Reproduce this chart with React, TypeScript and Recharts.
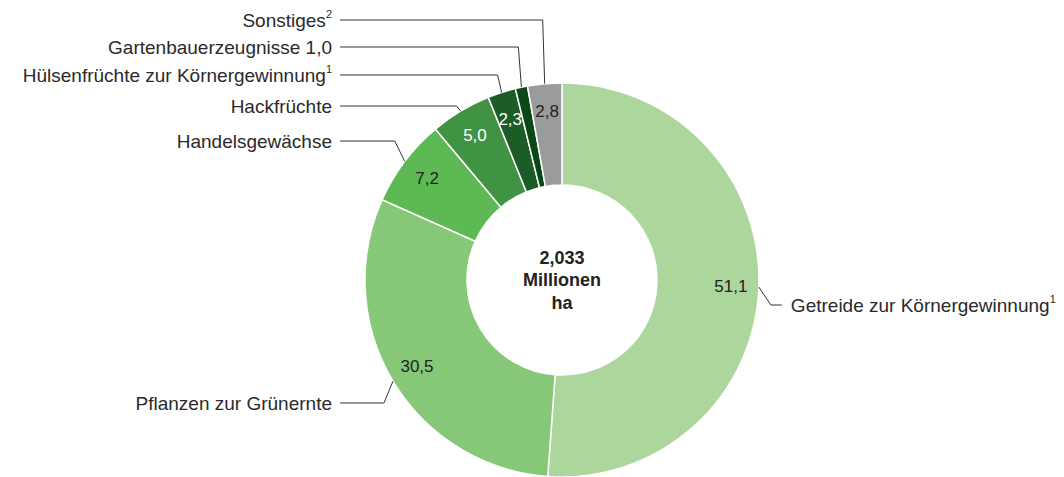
import { PieChart, Pie, Cell } from "recharts";

const CATEGORIES = [
  "Getreide zur Körnergewinnung",
  "Pflanzen zur Grünernte",
  "Handelsgewächse",
  "Hackfrüchte",
  "Hülsenfrüchte zur Körnergewinnung",
  "Gartenbauerzeugnisse 1,0",
  "Sonstiges",
];
const FOOTNOTES = ["1", "", "", "", "1", "", "2"];
const VALUES = [51.1, 30.5, 7.2, 5.0, 2.3, 1.0, 2.8];
const VALUE_LABELS = ["51,1", "30,5", "7,2", "5,0", "2,3", "", "2,8"];

const COLORS = ["#acd69c", "#86c877", "#5cb953", "#3f9343", "#1c5d27", "#0b4818", "#9a9b9d"];
const VALUE_TEXT = ["#222", "#222", "#222", "#fff", "#fff", "#fff", "#222"];

// label placement: y of the text row and the small sideways step of the leader line
const LABEL_ROW_Y = [305, 403, 141, 106, 75, 47, 20];
const LABEL_STEP_X = [12, -9, -10, -4, -4, -3, -2];

const data = CATEGORIES.map((name, i) => ({ name, value: VALUES[i] }));

const FONT = "'Liberation Sans', Arial, sans-serif";
const RADIAN = Math.PI / 180;

function renderLabel(props: any) {
  const { cx, cy, midAngle, outerRadius, index } = props;
  const cos = Math.cos(-midAngle * RADIAN);
  const sin = Math.sin(-midAngle * RADIAN);
  const ax = cx + outerRadius * cos;
  const ay = cy + outerRadius * sin;
  const bx = ax + LABEL_STEP_X[index];
  const by = LABEL_ROW_Y[index];
  const right = cos > 0;
  const ex = right ? bx + 11 : 340;
  const tx = right ? ex + 9 : 332;
  const vr = 169;
  const vx = cx + vr * cos;
  const vy = cy + vr * sin;
  return (
    <g key={`lbl-${index}`}>
      {VALUE_LABELS[index] && (
        <text
          x={vx}
          y={vy}
          textAnchor="middle"
          dominantBaseline="central"
          fill={VALUE_TEXT[index]}
          fontSize={17}
          fontFamily={FONT}
        >
          {VALUE_LABELS[index]}
        </text>
      )}
      <polyline
        points={`${ax},${ay} ${bx},${by} ${ex},${by}`}
        fill="none"
        stroke="#333"
        strokeWidth={1}
      />
      <text
        x={tx}
        y={by}
        textAnchor={right ? "start" : "end"}
        dominantBaseline="central"
        fill="#2a2a2a"
        fontSize={19}
        fontFamily={FONT}
      >
        {CATEGORIES[index]}
        {FOOTNOTES[index] && (
          <tspan fontSize={11} dy={-6}>
            {FOOTNOTES[index]}
          </tspan>
        )}
      </text>
    </g>
  );
}

export default function App() {
  return (
    <div style={{ position: "absolute", left: 0, top: 0, width: 1064, height: 477, background: "#fff" }}>
      <PieChart width={1064} height={477} margin={{ top: 0, right: 0, bottom: 0, left: 0 }}>
        <Pie
          data={data}
          dataKey="value"
          nameKey="name"
          cx={562}
          cy={280}
          innerRadius={95}
          outerRadius={197}
          startAngle={90}
          endAngle={-270}
          stroke="#fff"
          strokeWidth={1.5}
          label={renderLabel}
          labelLine={false}
          isAnimationActive={false}
        >
          {data.map((d, i) => (
            <Cell key={d.name} fill={COLORS[i]} />
          ))}
        </Pie>
        <text x={562} y={258} textAnchor="middle" dominantBaseline="central" fontSize={18} fontWeight="bold" fill="#222" fontFamily={FONT}>
          2,033
        </text>
        <text x={562} y={280} textAnchor="middle" dominantBaseline="central" fontSize={18} fontWeight="bold" fill="#222" fontFamily={FONT}>
          Millionen
        </text>
        <text x={562} y={303} textAnchor="middle" dominantBaseline="central" fontSize={18} fontWeight="bold" fill="#222" fontFamily={FONT}>
          ha
        </text>
      </PieChart>
    </div>
  );
}
